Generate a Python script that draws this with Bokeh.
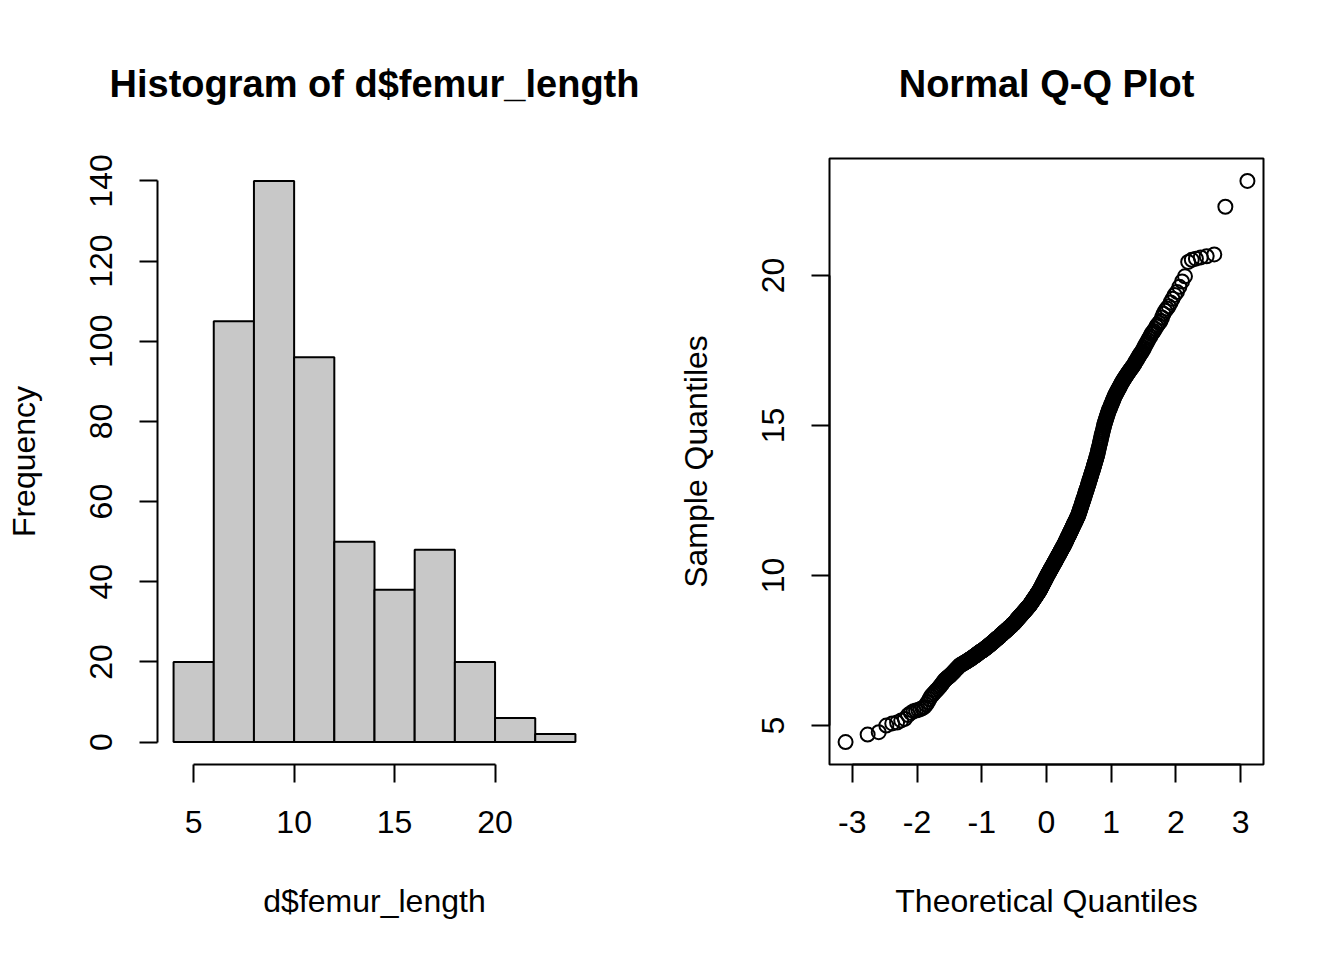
from statistics import NormalDist
from bokeh.plotting import figure
from bokeh.layouts import row
from bokeh.models import Range1d, FixedTicker
from bokeh.embed import file_html
from bokeh.resources import INLINE

# ---------------- data ----------------
bin_edges = [4, 6, 8, 10, 12, 14, 16, 18, 20, 22, 24]
bin_counts = [20, 105, 140, 96, 50, 38, 48, 20, 6, 2]

# sorted sample values (femur length), grouped by histogram bin
bin_4_6 = [4.45, 4.70, 4.78, 5.00, 5.07, 5.10, 5.17, 5.22, 5.35, 5.42, 5.48, 5.50,
           5.52, 5.55, 5.58, 5.62, 5.70, 5.78, 5.88, 5.97]
bin_6_8 = [6.03, 6.08, 6.13, 6.18, 6.22, 6.27, 6.32, 6.37, 6.42, 6.47,
           6.52, 6.55, 6.58, 6.61, 6.63, 6.66, 6.69, 6.72, 6.75, 6.78, 6.81, 6.84,
           6.87, 6.90, 6.93, 6.95, 6.98,
           7.01, 7.02, 7.03, 7.05, 7.06, 7.08, 7.09, 7.10, 7.12, 7.13, 7.14, 7.16,
           7.17, 7.19, 7.20, 7.21, 7.23, 7.24, 7.25, 7.27, 7.28, 7.30, 7.31, 7.32,
           7.34, 7.35, 7.36, 7.38, 7.39, 7.41, 7.42, 7.43, 7.45, 7.46, 7.47, 7.48,
           7.49, 7.50,
           7.51, 7.52, 7.54, 7.55, 7.56, 7.57, 7.59, 7.60, 7.61, 7.62, 7.64, 7.65,
           7.66, 7.67, 7.69, 7.70, 7.71, 7.72, 7.74, 7.75, 7.76, 7.77, 7.79, 7.80,
           7.81, 7.82, 7.84, 7.85, 7.86, 7.87, 7.89, 7.90, 7.91, 7.92, 7.93, 7.94,
           7.95, 7.96, 7.98, 7.99]
bin_8_10 = [8.01, 8.02, 8.03, 8.04, 8.05, 8.06, 8.08, 8.09, 8.10, 8.11, 8.12, 8.13,
            8.14, 8.15, 8.16, 8.18, 8.19, 8.20, 8.21, 8.22, 8.23, 8.24, 8.25, 8.27,
            8.28, 8.29, 8.30, 8.31, 8.32, 8.33, 8.34, 8.36, 8.37, 8.38, 8.39, 8.40,
            8.41, 8.42, 8.44, 8.45, 8.46, 8.47, 8.49,
            8.51, 8.52, 8.53, 8.55, 8.56, 8.57, 8.58, 8.60, 8.61, 8.62, 8.63, 8.65,
            8.66, 8.67, 8.68, 8.70, 8.71, 8.72, 8.73, 8.75, 8.76, 8.77, 8.78, 8.80,
            8.81, 8.82, 8.83, 8.85, 8.86, 8.87, 8.88, 8.90, 8.91, 8.92, 8.93, 8.95,
            8.96, 8.97, 8.98, 8.99,
            9.01, 9.02, 9.04, 9.05, 9.07, 9.09, 9.10, 9.12, 9.13, 9.15, 9.16, 9.18,
            9.20, 9.21, 9.23, 9.24, 9.26, 9.27, 9.29, 9.30, 9.32, 9.34, 9.35, 9.37,
            9.38, 9.40, 9.41, 9.43, 9.45, 9.46, 9.48, 9.49,
            9.51, 9.53, 9.55, 9.57, 9.59, 9.61, 9.63, 9.65, 9.67, 9.69, 9.71, 9.73,
            9.75, 9.77, 9.79, 9.81, 9.83, 9.85, 9.87, 9.89, 9.91, 9.93, 9.95, 9.97,
            9.99]
bin_10_12 = [10.01, 10.03, 10.05, 10.07, 10.08, 10.10, 10.12, 10.14, 10.16, 10.18,
             10.20, 10.21, 10.23, 10.25, 10.27, 10.29, 10.31, 10.33, 10.34, 10.36,
             10.38, 10.40, 10.42, 10.44, 10.46, 10.47, 10.49,
             10.51, 10.53, 10.55, 10.57, 10.59, 10.61, 10.63, 10.65, 10.67, 10.69,
             10.70, 10.72, 10.74, 10.76, 10.78, 10.80, 10.82, 10.84, 10.86, 10.88,
             10.90, 10.92, 10.94, 10.96, 10.97, 10.99,
             11.01, 11.03, 11.06, 11.08, 11.10, 11.12, 11.15, 11.17, 11.19, 11.21,
             11.24, 11.26, 11.28, 11.31, 11.33, 11.35, 11.37, 11.40, 11.42, 11.44,
             11.46, 11.49,
             11.51, 11.53, 11.56, 11.58, 11.61, 11.63, 11.65, 11.68, 11.70, 11.73,
             11.75, 11.77, 11.80, 11.82, 11.84, 11.87, 11.89, 11.92, 11.94, 11.96,
             11.99]
bin_12_14 = [12.02, 12.05, 12.09, 12.12, 12.16, 12.20, 12.23, 12.27, 12.30, 12.34,
             12.38, 12.41, 12.45, 12.48,
             12.52, 12.56, 12.60, 12.64, 12.67, 12.71, 12.75, 12.79, 12.83, 12.87,
             12.90, 12.94, 12.98,
             13.02, 13.06, 13.10, 13.15, 13.19, 13.23, 13.27, 13.31, 13.35, 13.40,
             13.44, 13.48,
             13.52, 13.57, 13.61, 13.66, 13.70, 13.75, 13.79, 13.84, 13.89, 13.93,
             13.98]
bin_14_16 = [14.03, 14.09, 14.16, 14.22, 14.28, 14.34, 14.41, 14.47,
             14.53, 14.59, 14.66, 14.72, 14.78, 14.84, 14.91, 14.97,
             15.03, 15.08, 15.13, 15.18, 15.23, 15.28, 15.33, 15.38, 15.43, 15.48,
             15.52, 15.56, 15.60, 15.64, 15.68, 15.73, 15.77, 15.81, 15.85, 15.90,
             15.94, 15.98]
bin_16_18 = [16.02, 16.05, 16.09, 16.12, 16.16, 16.20, 16.23, 16.27, 16.30, 16.34,
             16.38, 16.41, 16.45, 16.48,
             16.52, 16.55, 16.58, 16.62, 16.65, 16.68, 16.72, 16.75, 16.78, 16.82,
             16.85, 16.88, 16.92, 16.95, 16.98,
             17.02, 17.07, 17.11, 17.16, 17.20, 17.25, 17.30, 17.34, 17.39, 17.43,
             17.48,
             17.53, 17.59, 17.66, 17.72, 17.78, 17.84, 17.91, 17.97]
bin_18_20 = [18.05, 18.10, 18.15, 18.22, 18.30, 18.36, 18.42, 18.48,
             18.60, 18.72, 18.82, 18.90, 18.97,
             19.10, 19.22, 19.35, 19.45,
             19.62, 19.80, 19.97]
bin_20_22 = [20.45, 20.52, 20.56, 20.60, 20.64, 20.70]
bin_22_24 = [22.29, 23.15]

hist_xticks = [5, 10, 15, 20]
hist_yticks = [0, 20, 40, 60, 80, 100, 120, 140]
qq_xticks = [-3, -2, -1, 0, 1, 2, 3]
qq_yticks = [5, 10, 15, 20]

sample = sorted(bin_4_6 + bin_6_8 + bin_8_10 + bin_10_12 + bin_12_14 +
                bin_14_16 + bin_16_18 + bin_18_20 + bin_20_22 + bin_22_24)
n = len(sample)
nd = NormalDist()
theoretical = [nd.inv_cdf((i - 0.5) / n) for i in range(1, n + 1)]  # qnorm(ppoints(n))

FONT = "Liberation Sans"
FS = "32px"


def style_axes(p, xticks, yticks, xlabel, ylabel, xb, yb):
    for ax in (p.xaxis[0], p.yaxis[0]):
        ax.axis_line_width = 2
        ax.axis_line_color = "black"
        ax.major_tick_line_width = 2
        ax.major_tick_line_color = "black"
        ax.major_tick_in = 0
        ax.major_tick_out = 18
        ax.minor_tick_line_color = None
        ax.major_label_text_font = FONT
        ax.major_label_text_font_size = FS
        ax.major_label_text_color = "black"
        ax.axis_label_text_font = FONT
        ax.axis_label_text_font_size = FS
        ax.axis_label_text_font_style = "normal"
        ax.axis_label_text_color = "black"
    p.xaxis[0].ticker = FixedTicker(ticks=xticks)
    p.yaxis[0].ticker = FixedTicker(ticks=yticks)
    p.xaxis[0].major_label_overrides = {t: str(t) for t in xticks}
    p.yaxis[0].major_label_overrides = {t: str(t) for t in yticks}
    p.xaxis[0].bounds = xb
    p.yaxis[0].bounds = yb
    p.xaxis[0].axis_label = xlabel
    p.yaxis[0].axis_label = ylabel
    p.yaxis[0].major_label_orientation = "vertical"
    p.xaxis[0].major_label_standoff = 28
    p.yaxis[0].major_label_standoff = 27
    p.xaxis[0].axis_label_standoff = 47
    p.yaxis[0].axis_label_standoff = 46
    p.xgrid.grid_line_color = None
    p.ygrid.grid_line_color = None
    p.title.align = "center"
    p.title.text_font = FONT
    p.title.text_font_size = "38px"
    p.title.text_font_style = "bold"
    p.title.text_color = "black"
    p.title.standoff = 107


# ---------------- histogram ----------------
pad_x = 0.04 * (bin_edges[-1] - bin_edges[0])
pad_y = 0.04 * max(bin_counts)
p1 = figure(width=664, height=944, output_backend="svg", toolbar_location=None,
            x_range=Range1d(bin_edges[0] - pad_x, bin_edges[-1] + pad_x),
            y_range=Range1d(-pad_y, max(bin_counts) + pad_y),
            min_border_left=157, min_border_right=73,
            min_border_top=158, min_border_bottom=180,
            title="Histogram of d$femur_length")
p1.outline_line_color = None
p1.quad(left=bin_edges[:-1], right=bin_edges[1:], bottom=0, top=bin_counts,
        fill_color="#C8C8C8", line_color="black", line_width=2)
style_axes(p1, hist_xticks, hist_yticks, "d$femur_length", "Frequency",
           (5, 20), (0, 140))

# ---------------- QQ plot ----------------
tx0, tx1 = min(theoretical), max(theoretical)
sy0, sy1 = min(sample), max(sample)
px = 0.04 * (tx1 - tx0)
py = 0.04 * (sy1 - sy0)
p2 = figure(width=664, height=944, output_backend="svg", toolbar_location=None,
            x_range=Range1d(tx0 - px, tx1 + px),
            y_range=Range1d(sy0 - py, sy1 + py),
            min_border_left=165, min_border_right=65,
            min_border_top=158, min_border_bottom=180,
            title="Normal Q-Q Plot")
p2.outline_line_color = "black"
p2.outline_line_width = 2
p2.scatter(theoretical, sample, marker="circle", size=14, fill_color=None,
           line_color="black", line_width=2)
style_axes(p2, qq_xticks, qq_yticks, "Theoretical Quantiles", "Sample Quantiles",
           (-3, 3), (5, 20))

layout = row(p1, p2)
open("out.html", "w").write(file_html(layout, INLINE))
